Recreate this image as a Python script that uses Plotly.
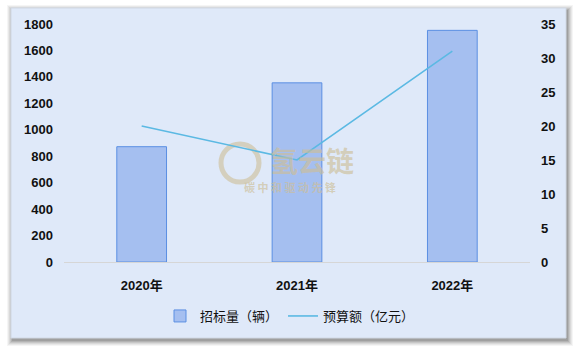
import plotly.graph_objects as go

years = ["2020年", "2021年", "2022年"]
bids = [872, 1355, 1752]          # 招标量（辆）
budget = [20, 15, 31]              # 预算额（亿元）
left_ticks = [0, 200, 400, 600, 800, 1000, 1200, 1400, 1600, 1800]
right_ticks = [0, 5, 10, 15, 20, 25, 30, 35]

font_cn = "Liberation Sans, Arial, Noto Sans CJK SC, sans-serif"

fig = go.Figure()
fig.add_trace(go.Bar(
    x=years, y=bids, name="招标量（辆）", width=0.32,
    marker=dict(color="#a5bff0", line=dict(color="#5b8fe3", width=1)),
    yaxis="y",
))
fig.add_trace(go.Scatter(
    x=years, y=budget, name="预算额（亿元）", mode="lines",
    line=dict(color="#5bb9e3", width=1.6),
    yaxis="y2",
))

W, H = 580, 348
pl, pr, pt, pb = 64, 530, 24, 262

fig.update_layout(
    width=W, height=H,
    margin=dict(l=pl, r=W - pr, t=pt, b=H - pb, autoexpand=False),
    paper_bgcolor="white",
    plot_bgcolor="rgba(0,0,0,0)",
    font=dict(family=font_cn, size=13, color="#111111"),
    showlegend=True,
    legend=dict(orientation="h", xref="container", yref="container",
                x=0.5, xanchor="center", y=1 - 316 / H, yanchor="middle",
                font=dict(size=13, family="Noto Sans CJK SC, sans-serif", color="#111111"),
                bgcolor="rgba(0,0,0,0)", itemwidth=30),
    xaxis=dict(type="category", showgrid=False, showline=True, linecolor="#d6d6d6",
               linewidth=1, ticks="", tickfont=dict(size=13, weight="bold"),
               ticklabelstandoff=11, fixedrange=True),
    yaxis=dict(range=[0, 1800], tickvals=left_ticks, showgrid=False, zeroline=False,
               showline=False, tickfont=dict(size=13, weight="bold"),
               ticklabelstandoff=10),
    yaxis2=dict(range=[0, 35], tickvals=right_ticks, overlaying="y", side="right",
                showgrid=False, zeroline=False, showline=False,
                tickfont=dict(size=13, weight="bold"), ticklabelstandoff=10),
)

def px(x):
    return (x - pl) / (pr - pl)
def py(y):
    return (pb - y) / (pb - pt)

# card with shadow
for d, a in [(6, 0.06), (5, 0.08), (4, 0.10), (3, 0.14), (2, 0.18), (1, 0.22)]:
    fig.add_shape(type="rect", xref="paper", yref="paper", layer="below",
                  x0=px(11 - d + 2), x1=px(567 + d), y0=py(340 + d), y1=py(8 - d + 3),
                  fillcolor=f"rgba(90,90,90,{a})", line=dict(width=0))
fig.add_shape(type="rect", xref="paper", yref="paper", layer="below",
              x0=px(11), x1=px(566), y0=py(338), y1=py(8),
              fillcolor="#dfe9f9", line=dict(color="#d0d8e4", width=1))

# watermark logo ring (shape, not text)
fig.add_shape(type="circle", xref="paper", yref="paper", layer="below",
              x0=px(221), x1=px(259), y0=py(182), y1=py(144),
              line=dict(color="rgba(205,190,150,0.6)", width=5), fillcolor="rgba(0,0,0,0)")

# watermark texts
fig.add_annotation(xref="paper", yref="paper", x=px(312), y=py(160), text="<b>氢云链</b>",
                   showarrow=False, font=dict(size=28, color="rgba(205,190,150,0.65)",
                                              family="Noto Sans CJK SC"))
fig.add_annotation(xref="paper", yref="paper", x=px(290), y=py(197), text="<b>碳 中 和 驱 动 先 锋</b>",
                   showarrow=False, font=dict(size=11, color="rgba(205,190,150,0.65)",
                                              family="Noto Sans CJK SC"))

fig.write_html("out.html")
